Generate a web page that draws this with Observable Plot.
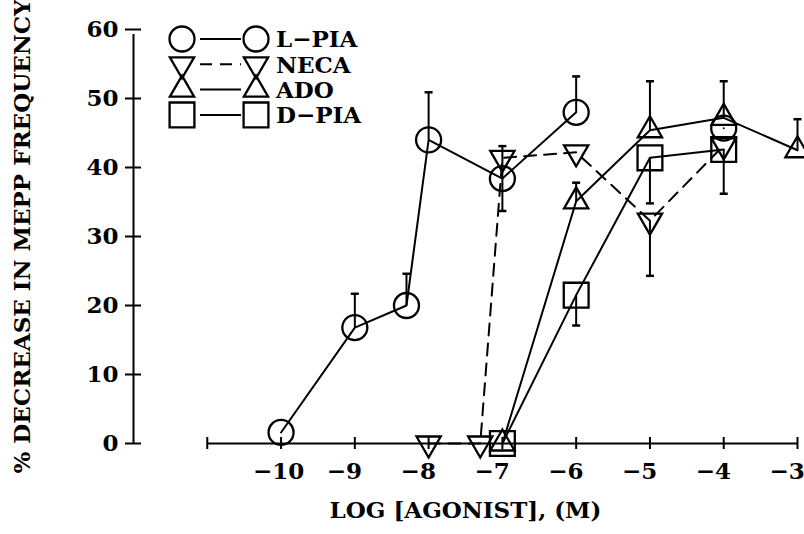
<!DOCTYPE html>
<html><head><meta charset="utf-8">
<script src="https://cdn.jsdelivr.net/npm/d3@7"></script>
<script src="https://cdn.jsdelivr.net/npm/@observablehq/plot@0.6"></script>
<style>
body{margin:0;background:#fff;}
#chart{position:relative;width:804px;height:534px;background:#fff;}
#chart svg{display:block;}
</style></head><body><div id="chart"></div>
<script>
// ---- data ----
const xTicks = [-11, -10, -9, -8, -7, -6, -5, -4, -3];
const xTickLabels = ["", "−10", "−9", "−8", "−7", "−6", "−5", "−4", "−3"];
const yTicks = [0, 10, 20, 30, 40, 50, 60];
const xTitle = "LOG [AGONIST], (M)";
const yTitle = "% DECREASE IN MEPP FREQUENCY";
const seriesNames = ["L−PIA", "NECA", "ADO", "D−PIA"];

const lpiaX = [-10, -9, -8.3, -8, -7, -6, -5, -4];
const lpiaY = [1.6, 16.8, 20, 44, 38.4, 48, null, 45.7];
const necaX = [-8, -7.3, -7, -6, -5, -4];
const necaY = [0, 0, 41.4, 42.2, 32.3, 43.2];
const adoX = [-7, -6, -5, -4, -3];
const adoY = [0, 35.1, 45.4, 47.2, 42.5];
const dpiaX = [-7, -6, -5, -4];
const dpiaY = [0, 21.5, 41.4, 42.6];

// error bars: from the point value to the capped end
const errX    = [-9, -8.3, -8, -7, -7, -6, -5, -6, -5, -4, -3, -6, -5, -4];
const errFrom = [16.8, 20, 44, 38.4, 38.4, 48, 32.3, 35.1, 45.4, 47.2, 42.5, 21.5, 41.4, 42.6];
const errTo   = [21.7, 24.6, 50.9, 43.1, 33.7, 53.2, 24.3, 37.8, 52.5, 52.5, 47, 17.1, 34.8, 36.2];

// ---- build tables ----
const toRows = (xs, ys) => xs.map((x, i) => ({x, y: ys[i]}));
const lpia = toRows(lpiaX, lpiaY);
const neca = toRows(necaX, necaY);
const ado = toRows(adoX, adoY);
const dpia = toRows(dpiaX, dpiaY);
const errs = errX.map((x, i) => ({x, y1: errFrom[i], y2: errTo[i]}));
const xLabelRows = xTicks.map((t, i) => ({x: t, label: xTickLabels[i]}));

// ---- custom symbols ----
const triDown = {draw(ctx, size) {
  const y = Math.sqrt(size / (3 * Math.sqrt(3)));
  ctx.moveTo(0, 2 * y); ctx.lineTo(-Math.sqrt(3) * y, -y); ctx.lineTo(Math.sqrt(3) * y, -y); ctx.closePath();
}};
const capSym = {draw(ctx, size) {
  const w = Math.sqrt(size / Math.PI);
  ctx.moveTo(-w, 0); ctx.lineTo(w, 0);
}};

const FONT = "DejaVu Serif";
const FS = 23;
const SW = 2;
const marker = {circle: {symbol: "circle", r: 12.5}, tri: {symbol: "triangle", r: 9}, triDown: {symbol: triDown, r: 9}, square: {symbol: "square", r: 14}};

const plot = Plot.plot({
  width: 804, height: 534,
  marginLeft: 133, marginRight: 7, marginTop: 29, marginBottom: 91,
  x: {domain: [-12, -3]},
  y: {domain: [0, 60]},
  style: {fontFamily: FONT, fontWeight: "bold", fontSize: FS + "px", background: "#fff", color: "#000"},
  marks: [
    // y axis
    Plot.ruleX([-12], {y1: yTicks[0], y2: yTicks[yTicks.length - 1], insetBottom: -5, strokeWidth: SW}),
    Plot.axisY({ticks: yTicks, tickSize: 16, dx: 8, tickPadding: 7, label: null, fontSize: FS, fontWeight: "bold", strokeWidth: SW}),
    // x axis: line, ticks, and left-aligned labels
    Plot.ruleY([0], {x1: xTicks[0], x2: xTicks[xTicks.length - 1], strokeWidth: SW}),
    Plot.axisX({ticks: xTicks, tickFormat: () => "", tickSize: 12, dy: -6, label: null, strokeWidth: SW}),
    Plot.text(xLabelRows, {x: "x", text: "label", frameAnchor: "bottom", dx: -28, dy: 28, textAnchor: "start", lineAnchor: "middle", fontSize: FS, fontWeight: "bold"}),
    // titles
    Plot.text([yTitle], {frameAnchor: "left", rotate: -90, dx: -111, fontSize: FS, fontWeight: "bold", textAnchor: "middle"}),
    Plot.text([xTitle], {frameAnchor: "bottom", dy: 67, fontSize: FS, fontWeight: "bold", textAnchor: "middle", lineAnchor: "middle"}),
    // error bars
    Plot.ruleX(errs, {x: "x", y1: "y1", y2: "y2", strokeWidth: SW}),
    Plot.dot(errs, {x: "x", y: "y2", symbol: capSym, r: 4, stroke: "#000", strokeWidth: SW + 0.5}),
    // lines
    Plot.line(lpia, {x: "x", y: "y", strokeWidth: SW}),
    Plot.line(neca, {x: "x", y: "y", strokeWidth: SW, strokeDasharray: "12,8"}),
    Plot.line(ado, {x: "x", y: "y", strokeWidth: SW}),
    Plot.line(dpia, {x: "x", y: "y", strokeWidth: SW}),
    // markers
    Plot.dot(lpia, {x: "x", y: "y", ...marker.circle, stroke: "#000", fill: "none", strokeWidth: SW + 0.3}),
    Plot.dot(neca, {x: "x", y: "y", ...marker.triDown, stroke: "#000", fill: "none", strokeWidth: SW + 0.3}),
    Plot.dot(ado, {x: "x", y: "y", ...marker.tri, stroke: "#000", fill: "none", strokeWidth: SW + 0.3}),
    Plot.dot(dpia, {x: "x", y: "y", ...marker.square, stroke: "#000", fill: "none", strokeWidth: SW + 0.3})
  ]
});
document.getElementById("chart").appendChild(plot);

// ---- legend overlay ----
const legendSyms = [marker.circle, marker.triDown, marker.tri, marker.square];
const legendDash = [null, "12,8", null, null];
const symType = s => s.symbol === "circle" ? d3.symbolCircle : s.symbol === "triangle" ? d3.symbolTriangle : s.symbol === "square" ? d3.symbolSquare : s.symbol;
const lg = d3.select("#chart").append("svg")
  .attr("width", 804).attr("height", 534)
  .style("position", "absolute").style("left", "0px").style("top", "0px")
  .style("pointer-events", "none");
const rowY0 = 39, rowStep = 25.3, sym1X = 182, lineX1 = 200, lineX2 = 241, sym2X = 256, textX = 276;
seriesNames.forEach((name, i) => {
  const y = rowY0 + i * rowStep;
  const s = legendSyms[i];
  const path = d3.symbol().type(symType(s)).size(Math.PI * s.r * s.r)();
  [sym1X, sym2X].forEach(x => lg.append("path").attr("d", path).attr("transform", `translate(${x},${y})`)
    .attr("fill", "none").attr("stroke", "#000").attr("stroke-width", SW + 0.3));
  lg.append("line").attr("x1", lineX1).attr("x2", lineX2).attr("y1", y).attr("y2", y)
    .attr("stroke", "#000").attr("stroke-width", SW).attr("stroke-dasharray", legendDash[i]);
  lg.append("text").attr("x", textX).attr("y", y).attr("dy", "0.36em")
    .attr("font-family", FONT).attr("font-weight", "bold").attr("font-size", FS).text(name);
});
</script></body></html>
